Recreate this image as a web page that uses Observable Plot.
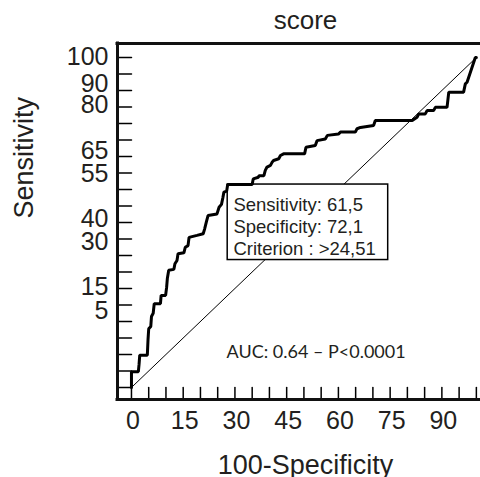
<!DOCTYPE html>
<html>
<head>
<meta charset="utf-8">
<script src="https://cdn.jsdelivr.net/npm/d3@7"></script>
<script src="https://cdn.jsdelivr.net/npm/@observablehq/plot@0.6"></script>
<style>
  html, body { margin: 0; padding: 0; background: #fff; }
</style>
</head>
<body>
<div id="chart"></div>
<script>
// ROC curve points: x = 100-Specificity, y = Sensitivity
const fpr = [0,0,2.0,2.2,2.4,4.6,4.8,5.0,5.6,5.8,6.3,6.6,8.4,8.6,9.9,10.2,10.4,10.8,12.3,12.6,13.2,13.5,15.2,15.6,16.4,16.7,19.0,20.8,21.2,21.7,22.2,24.8,25.4,26.1,26.5,26.8,27.6,27.9,
  35.0,35.3,36.8,37.0,38.4,38.8,39.3,40.3,40.8,41.2,42.7,43.2,44.1,50.2,50.6,53.3,53.8,56.2,56.8,60.0,60.6,64.9,65.4,66.4,70.2,70.7,
  81.4,82.8,83.3,85.2,85.7,87.6,88.1,91.5,92.0,96.3,96.8,97.3,99.7,100];
const sens = [0,4.8,4.8,7,9.8,9.8,14.5,17.8,18.5,21.5,22.5,25.4,25.4,27.9,27.9,30.4,33,35.5,35.8,37.5,38.5,40.5,40.8,42.5,43,45.5,46.1,46.6,48,50.1,52.1,52.6,54.6,55.5,57.5,59.2,59.5,61.5,
  61.5,63.2,63.7,64.2,64.2,65.8,66.8,67.3,68.3,68.8,69.3,70.3,70.8,70.8,72.8,73.3,74.8,75.3,76.4,76.8,77.4,77.4,78.4,78.8,79.4,80.9,
  80.9,81.9,82.9,82.9,83.9,83.9,84.9,84.9,89.5,89.5,92.0,92.5,100,100];

// chance line
const diagX = [0, 100];
const diagY = [0, 100];

// criterion box values
const sensitivity = 61.5;
const specificity = 72.1;
const criterion = 24.51;
const auc = 0.64;
const pText = "P<0.0001";

// tick labels (as printed in the reference, at their printed positions)
const xTickLabels = [0, 15, 30, 45, 60, 75, 90];
const yTickLabels = ["100", "90", "80", "65", "55", "40", "30", "15", "5"];
const yTickPos    = [100, 92.0, 85.5, 71.8, 64.8, 51.2, 44.0, 30.4, 23.3];

const title = "score";
const xLabel = "100-Specificity";
const yLabel = "Sensitivity";

// layout
const W = 480, H = 477;
const M = {top: 43, right: 0, bottom: 78, left: 117};
const xDomain = [-4.05, 101.2];
const yDomain = [-3.64, 104.24];

const roc = fpr.map((x, i) => ({x, y: sens[i]}));
const diag = diagX.map((x, i) => ({x, y: diagY[i]}));
const crit = [{x: 100 - specificity, y: sensitivity}];
const fmt = v => String(v).replace(".", ",");
const boxText = [
  `Sensitivity: ${fmt(sensitivity)}`,
  `Specificity: ${fmt(specificity)}`,
  `Criterion : >${fmt(criterion)}`
].join("\n");
const aucText = `AUC: ${auc} – ${pText}`;

// major inward ticks every 5 units
const yMajor = d3.range(0, 101, 5);
const xMajor = d3.range(0, 101, 5);
const tickRight = {draw(ctx, l) { ctx.moveTo(0, 0); ctx.lineTo(l, 0); }};
const tickUp = {draw(ctx, l) { ctx.moveTo(0, 0); ctx.lineTo(0, -l); }};

const ink = "#231f20";
const font = "'Liberation Sans', Arial, Helvetica, sans-serif";

const chart = Plot.plot({
  width: W,
  height: H,
  marginTop: M.top,
  marginRight: M.right,
  marginBottom: M.bottom,
  marginLeft: M.left,
  x: {domain: xDomain, axis: null},
  y: {domain: yDomain, axis: null},
  style: {fontFamily: font, background: "#fff", color: ink},
  marks: [
    // chance diagonal
    Plot.line(diag, {x: "x", y: "y", stroke: "#000", strokeWidth: 1}),
    // criterion box
    Plot.rect(crit, {x1: "x", x2: "x", y1: "y", y2: "y", insetRight: -160.5, insetBottom: -75.5,
      fill: "#fff", stroke: "#000", strokeWidth: 1.5}),
    Plot.text(crit, {x: "x", y: "y", text: () => boxText, dx: 5.7, dy: 11.2,
      textAnchor: "start", lineAnchor: "top", lineHeight: 1.18, fontSize: 18.5, fill: ink}),
    // ROC curve
    Plot.line(roc, {x: "x", y: "y", stroke: "#000", strokeWidth: 3, strokeLinejoin: "miter"}),
    // inward ticks
    Plot.vectorY(yMajor, {y: d => d, frameAnchor: "left", anchor: "start", length: 14, shape: tickRight,
      stroke: "#000", strokeWidth: 1.5}),
    Plot.vectorX(xMajor, {x: d => d, frameAnchor: "bottom", anchor: "start", length: 12, shape: tickUp,
      stroke: "#000", strokeWidth: 1.5}),
    // frame (left, bottom, top)
    Plot.ruleX([xDomain[0]], {stroke: "#111", strokeWidth: 3, strokeLinecap: "square"}),
    Plot.ruleY([yDomain[0]], {stroke: "#111", strokeWidth: 3, strokeLinecap: "square"}),
    Plot.ruleY([yDomain[1]], {stroke: "#111", strokeWidth: 3, strokeLinecap: "square"}),
    // tick labels
    Plot.text(yTickPos, {y: d => d, text: (d, i) => yTickLabels[i], frameAnchor: "left",
      textAnchor: "end", dx: -9, dy: 0, fontSize: 25, fill: ink}),
    Plot.text(xTickLabels, {x: d => d, text: d => String(d), frameAnchor: "bottom",
      lineAnchor: "top", dy: 12, dx: 1.5, fontSize: 25, fill: ink}),
    // titles
    Plot.text([title], {frameAnchor: "top", lineAnchor: "middle", dy: -23.3, dx: 6.5, fontSize: 26, fill: ink}),
    Plot.text([xLabel], {frameAnchor: "bottom", lineAnchor: "middle", dy: 65.5, dx: 6.5, fontSize: 27, fill: ink}),
    Plot.text([yLabel], {frameAnchor: "left", lineAnchor: "middle", rotate: -90, dx: -93, dy: -3, fontSize: 27, fill: ink}),
    // AUC annotation
    Plot.text([aucText], {frameAnchor: "bottom-left", textAnchor: "start", lineAnchor: "middle",
      dx: 109, dy: -47, fontSize: 18, fontFamily: "Lato, 'Open Sans', sans-serif", fill: ink})
  ]
});

document.getElementById("chart").appendChild(chart);
</script>
</body>
</html>
